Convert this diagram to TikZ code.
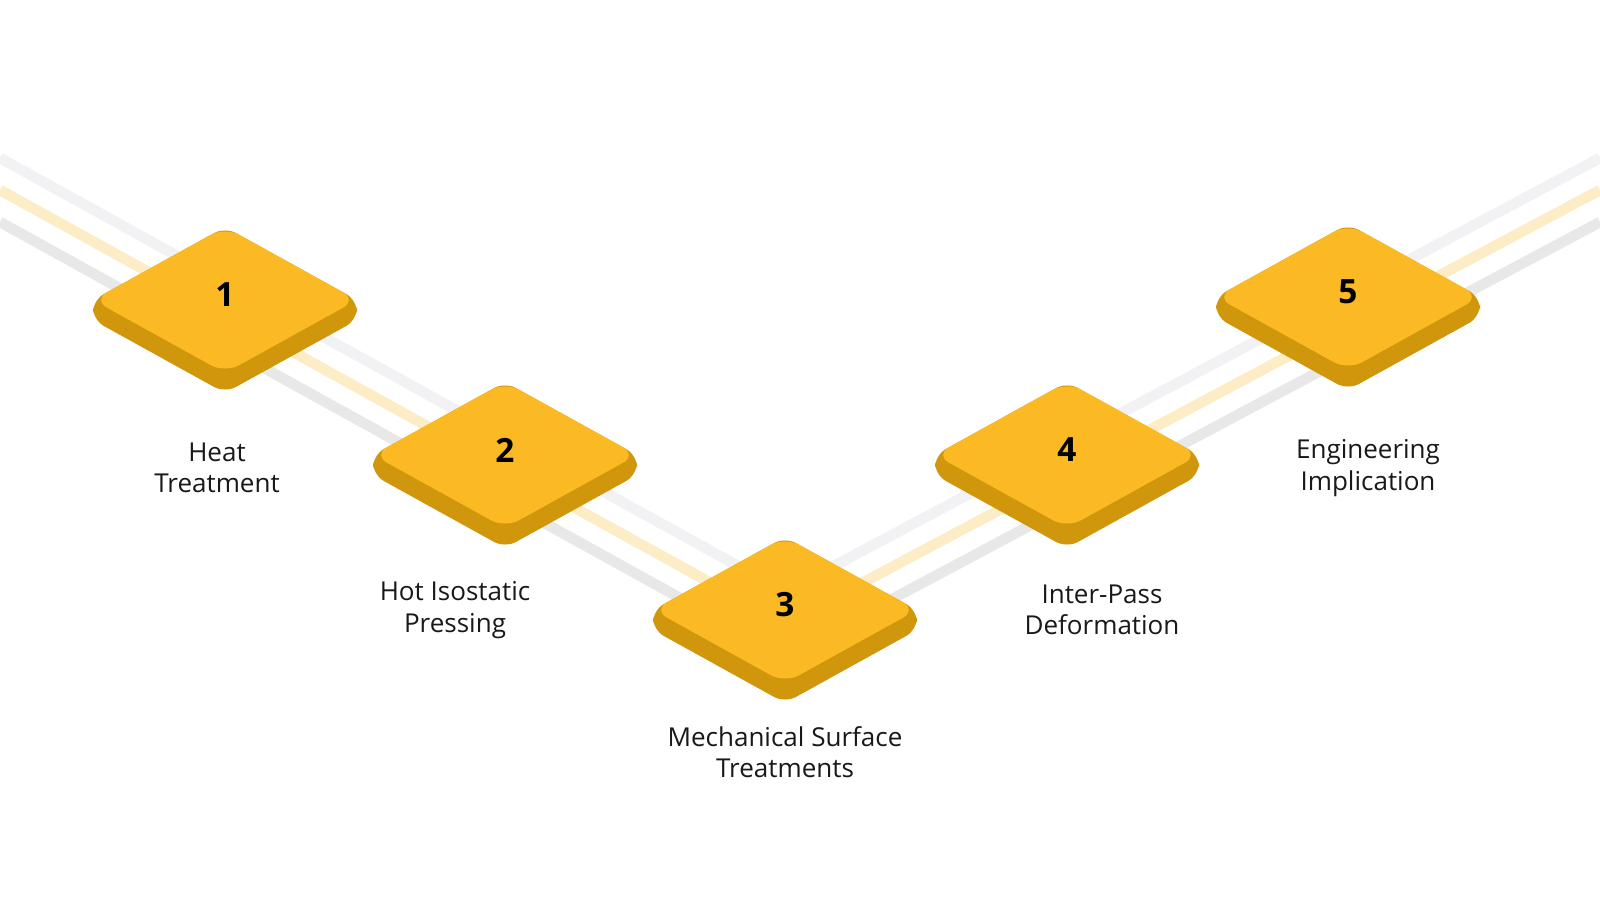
\documentclass[tikz,border=0pt]{standalone}
\usepackage{fontspec}
\setmainfont{Open Sans}
\begin{document}
\begin{tikzpicture}[x=0.01cm,y=-0.01cm,
  lbl/.style={font=\fontsize{7.4pt}{9pt}\selectfont,align=center,text=black!90},
  num/.style={font=\fontsize{9.5pt}{10pt}\selectfont\bfseries}]
\definecolor{top}{HTML}{FBBA23}
\definecolor{side}{HTML}{D0960C}
\definecolor{sA}{HTML}{F2F2F4}
\definecolor{sB}{HTML}{FDEDC6}
\definecolor{sC}{HTML}{E8E8E8}
\useasboundingbox (0,0) rectangle (1600,900);
\fill[white] (0,0) rectangle (1600,900);
% stripes
\foreach \o/\c in {-32/sA,0/sB,32/sC}{
  \draw[\c,line width=3pt] (0,{190+\o}) -- (785,{624+\o}) -- (1600,{190+\o});
}
\tikzset{dia/.pic={
  \fill[side,rounded corners=3.5pt] (-132,0) -- (0,-73) -- (132,0) -- (132,20) -- (0,93) -- (-132,20) -- cycle;
  \fill[top,rounded corners=4.5pt] (-132,0) -- (0,-73) -- (132,0) -- (0,73) -- cycle;
}}
\foreach \n/\x/\y in {1/225/300,2/505/455,3/785/610,4/1067/455,5/1348/297}{
  \pic at (\x,\y) {dia};
  \node[num] (n\n) at (\x,{\y-5}) {\n};
}
\node[lbl] (l1) at (217,468) {Heat\\Treatment};
\node[lbl] (l2) at (455,610) {Hot Isostatic\\Pressing};
\node[lbl] (l3) at (785,752) {Mechanical Surface\\Treatments};
\node[lbl] (l4) at (1102,610) {Inter-Pass\\Deformation};
\node[lbl] (l5) at (1368,468) {Engineering\\Implication};
\end{tikzpicture}
\end{document}
